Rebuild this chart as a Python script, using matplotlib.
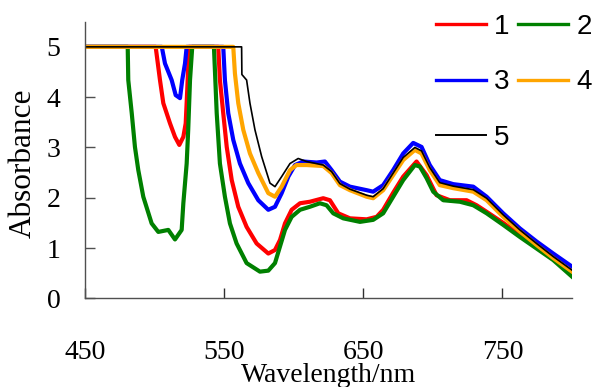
import matplotlib
matplotlib.use("Agg")
import matplotlib.pyplot as plt

# absorbance spectra of samples 1-5 (values saturate at 5)
wl_1 = [450, 500.6, 503.7, 506.1, 510.9, 514.5, 517.6, 520.5, 522.2, 523.3, 524.6, 545.6, 546.8, 549.2, 551.7,
        555.3, 560, 566, 573.2, 581.6, 586.4, 590, 593.6, 598.4, 604.4, 611.5, 621.1, 625.9, 631.9, 640.3, 652.3,
        659.5, 664.2, 671.4, 678.6, 688.2, 695.4, 702.6, 712.2, 724.2, 731.4, 738.6, 750.5, 762.5, 774.5, 786.5, 800]
abs_1 = [5, 5, 4.34, 3.88, 3.48, 3.21, 3.05, 3.21, 3.48, 4.14, 5, 5, 4.34, 3.68, 3.01,
         2.35, 1.82, 1.42, 1.09, 0.89, 0.96, 1.16, 1.49, 1.76, 1.89, 1.92, 1.99, 1.95, 1.69, 1.59, 1.57,
         1.62, 1.76, 2.1, 2.42, 2.72, 2.45, 2.05, 1.95, 1.95, 1.85, 1.72, 1.50, 1.26, 1.03, 0.80, 0.47]

wl_2 = [450, 480.5, 480.9, 483.4, 485.7, 488.1, 491.7, 497.7, 502.5, 509.7, 514.5, 519.3, 520.5, 522.9, 524,
        525.3, 526.9, 542.5, 543.2, 544.5, 546.8, 550.4, 554, 558.8, 566, 575.6, 581.6, 586.4, 590, 593.6, 598.4,
        604.4, 611.5, 618.7, 623.5, 628.3, 635.5, 647.5, 657, 664.2, 671.4, 678.6, 687, 690.6, 695.4, 700.2,
        707.4, 719.4, 729, 738.6, 750.5, 762.5, 774.5, 786.5, 800]
abs_2 = [5, 5, 4.34, 3.68, 3.01, 2.55, 2.02, 1.49, 1.32, 1.36, 1.17, 1.36, 1.89, 2.68, 3.35,
         4.34, 5, 5, 4.54, 3.68, 2.68, 2.02, 1.49, 1.09, 0.70, 0.53, 0.55, 0.70, 1.03, 1.36, 1.62,
         1.76, 1.82, 1.89, 1.85, 1.69, 1.59, 1.52, 1.56, 1.69, 2.02, 2.35, 2.65, 2.62, 2.39, 2.12,
         1.95, 1.92, 1.85, 1.69, 1.46, 1.22, 0.99, 0.76, 0.43]

wl_3 = [450, 505, 507.3, 512.1, 515, 518.1, 519.7, 521.7, 522.9, 549.2, 550.4, 552.8, 556.4, 561.2, 567.2,
        574.4, 581.6, 586.4, 591.2, 596, 600.8, 606.7, 616.3, 622.3, 627.1, 633.1, 640.3, 652.3, 657, 664.2,
        671.4, 678.6, 685.8, 691.8, 697.7, 704.9, 714.6, 729, 738.6, 750.5, 762.5, 774.5, 786.5, 800]
abs_3 = [5, 5, 4.67, 4.34, 4.04, 3.98, 4.34, 4.67, 5, 5, 4.34, 3.68, 3.15, 2.68, 2.29,
         1.95, 1.76, 1.82, 2.09, 2.42, 2.65, 2.72, 2.70, 2.72, 2.55, 2.32, 2.22, 2.15, 2.12, 2.25,
         2.55, 2.88, 3.09, 3.01, 2.65, 2.35, 2.27, 2.22, 2.02, 1.69, 1.39, 1.13, 0.89, 0.63]

wl_4 = [450, 556.4, 557.6, 560, 563.6, 568.4, 574.4, 581.6, 586.4, 591.2, 597.2, 601.9, 609.1, 621.1, 627.1,
        633.1, 640.3, 652.3, 657, 664.2, 678.6, 687, 691.8, 697.7, 704.9, 714.6, 729, 738.6, 750.5, 762.5,
        774.5, 786.5, 800]
abs_4 = [5, 5, 4.47, 3.88, 3.35, 2.88, 2.49, 2.09, 2.02, 2.22, 2.55, 2.65, 2.65, 2.63, 2.49,
         2.25, 2.15, 2.02, 1.99, 2.15, 2.75, 2.95, 2.88, 2.55, 2.25, 2.19, 2.12, 1.95, 1.62, 1.33,
         1.06, 0.80, 0.53]

wl_5 = [450, 562.4, 562.6, 566, 568.4, 572, 576.8, 582.8, 586.4, 591.2, 597.2, 603.1, 609.1, 621.1, 627.1,
        633.1, 640.3, 652.3, 657, 664.2, 678.6, 687, 691.8, 697.7, 704.9, 714.6, 729, 738.6, 750.5, 762.5,
        774.5, 786.5, 800]
abs_5 = [5, 5, 4.45, 4.34, 3.88, 3.35, 2.82, 2.29, 2.22, 2.42, 2.68, 2.78, 2.72, 2.65, 2.52,
         2.28, 2.17, 2.05, 2.02, 2.18, 2.80, 3.00, 2.93, 2.60, 2.30, 2.23, 2.16, 1.99, 1.66, 1.36,
         1.09, 0.83, 0.56]

labels = ["1", "2", "3", "4", "5"]
x_ticks = [450, 550, 650, 750]
y_ticks = [0, 1, 2, 3, 4, 5]

serif = "Liberation Serif"
sans = "Liberation Sans"

fig = plt.figure(figsize=(5.94, 3.87), dpi=100)
ax = fig.add_axes([0.1436, 0.2292, 0.8194, 0.7147])

series = [(wl_1, abs_1, "#ff0000", 3.0), (wl_2, abs_2, "#008000", 3.0), (wl_3, abs_3, "#0000ff", 3.0),
          (wl_4, abs_4, "#ffa500", 3.0), (wl_5, abs_5, "black", 1.2)]
handles = []
for (x, y, c, lw), lab in zip(series, labels):
    h, = ax.plot(x, y, color=c, lw=lw, label=lab)
    handles.append(h)

ax.set_xlim(450, 800)
ax.set_ylim(0, 5.5)
ax.set_xticks(x_ticks)
ax.set_yticks(y_ticks)
for s in ["top", "right"]:
    ax.spines[s].set_visible(False)
for s in ["left", "bottom"]:
    ax.spines[s].set_color("#505050")
    ax.spines[s].set_linewidth(1.0)
ax.tick_params(axis="x", direction="in", length=7, width=1, color="#303030", pad=30)
ax.tick_params(axis="y", direction="in", length=7, width=1, color="#505050", pad=18)
for t in ax.get_xticklabels() + ax.get_yticklabels():
    t.set_fontfamily(serif)
    t.set_fontsize(20)

ax.set_xlabel("Wavelength/nm", fontfamily=serif, fontsize=20)
ax.set_ylabel("Absorbance", fontfamily=serif, fontsize=22.5)
ax.xaxis.set_label_coords(0.5, -0.234)
ax.yaxis.set_label_coords(-0.097, 0.487)

# legend laid out row by row: 1 2 / 3 4 / 5
order = [0, 2, 4, 1, 3]
leg = fig.legend([handles[i] for i in order], [labels[i] for i in order], ncol=2,
                 loc="upper left", bbox_to_anchor=(436 / 594, 1 - 14 / 387), frameon=False,
                 prop={"family": sans, "size": 20}, handlelength=1.8, handletextpad=0.3,
                 columnspacing=0.3, labelspacing=1.06, borderpad=0, borderaxespad=0)
for h, i in zip(leg.legend_handles, order):
    h.set_linewidth(2.4 if i < 4 else 1.4)

fig.savefig("out.png", dpi=100)
